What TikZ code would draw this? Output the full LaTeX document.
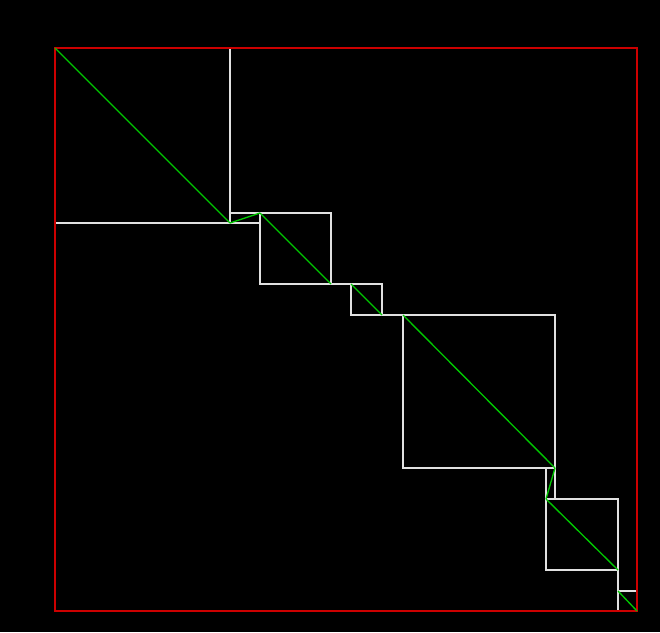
\documentclass[tikz,border=0pt]{standalone}
\usetikzlibrary{calc}
\definecolor{framered}{RGB}{204,0,0}
\definecolor{blockwhite}{RGB}{225,225,225}
\definecolor{diaggreen}{RGB}{0,200,0}

\begin{document}
\begin{tikzpicture}[x=0.05cm,y=-0.05cm,
  block/.style={draw=blockwhite,line width=2pt},
  frame/.style={draw=framered,line width=2.2pt},
  diag/.style={draw=diaggreen,line width=1.9pt}]
  \fill[black] (0,0) rectangle (660,632);
  % corners where one diagonal block hands over to the next
  \foreach \i/\x/\y in {0/55/48,1/230/223,2/260/213,3/331/284,4/351/284,5/382/315,
                        6/403/315,7/555/468,8/546/499,9/618/570,10/618/591,11/637/611}
    \coordinate (p\i) at (\x,\y);
  % each block spans two neighbouring corners
  \foreach \i in {0,...,10} {
    \pgfmathtruncatemacro{\j}{\i+1}
    \draw[block] (p\i) rectangle (p\j);
  }
  \draw[frame] (p0) rectangle (p11);
  % flat blocks (3, 5, 9) get no diagonal
  \foreach \i/\j in {0/1,1/2,2/3,4/5,6/7,7/8,8/9,10/11}
    \draw[diag] (p\i) -- (p\j);
\end{tikzpicture}
\end{document}
